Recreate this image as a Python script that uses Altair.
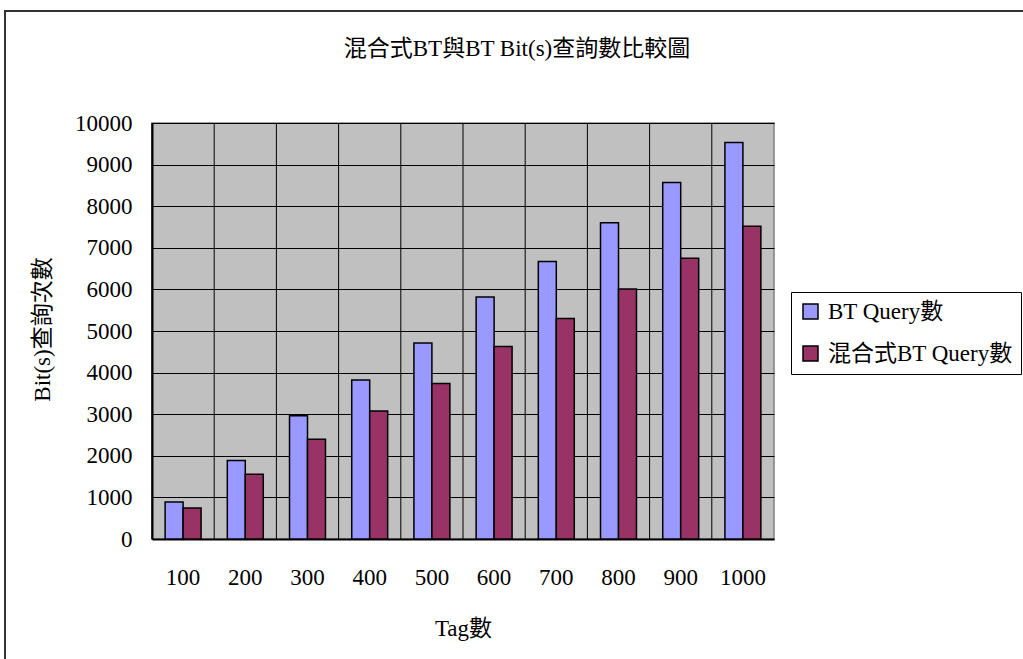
import altair as alt
import pandas as pd

# Tag counts on the category axis
tags = [100, 200, 300, 400, 500, 600, 700, 800, 900, 1000]
# Query counts per series
bt_query = [890, 1890, 2960, 3820, 4710, 5820, 6670, 7600, 8570, 9530]
hybrid_query = [745, 1555, 2400, 3075, 3740, 4630, 5300, 6010, 6750, 7520]

series = ["BT Query數", "混合式BT Query數"]
colors = ["#9999FF", "#993366"]
y_ticks = list(range(0, 10001, 1000))

FONT = "Liberation Serif, Noto Sans CJK TC"
FS = 23

rows = []
for t, a, b in zip(tags, bt_query, hybrid_query):
    rows.append({"tag": t, "series": series[0], "count": a})
    rows.append({"tag": t, "series": series[1], "count": b})
df = pd.DataFrame(rows)
tag_df = pd.DataFrame({"tag": tags})

W, H = 622, 416

x_scale = alt.Scale(paddingInner=0, paddingOuter=0)
x_axis = alt.Axis(
    labelAngle=0, ticks=False, grid=False, domainColor="black", domainWidth=2,
    labelFont=FONT, labelFontSize=FS, labelColor="black", labelPadding=27,
    title="Tag數", titleFont=FONT, titleFontSize=FS, titleFontWeight="normal",
    titleColor="black", titleY=89, titleBaseline="middle",
)

bars = alt.Chart(df).mark_bar(stroke="black", strokeWidth=1.5).encode(
    x=alt.X("tag:O", sort=tags, scale=x_scale, axis=x_axis),
    xOffset=alt.XOffset("series:N", sort=series,
                        scale=alt.Scale(paddingOuter=0.73, paddingInner=0)),
    y=alt.Y(
        "count:Q",
        scale=alt.Scale(domain=[0, 10000], nice=False),
        axis=alt.Axis(
            values=y_ticks, format="d", grid=True, gridColor="black", gridWidth=1,
            gridOpacity=1, domainColor="black", domainWidth=2, ticks=False,
            labelPadding=20, labelFont=FONT, labelFontSize=FS, labelColor="black",
            title="Bit(s)查詢次數", titleFont=FONT, titleFontSize=FS,
            titleFontWeight="normal", titleColor="black", titleX=-110, titleY=206,
            titleAngle=-90, titleAlign="center", titleBaseline="middle",
        ),
    ),
    color=alt.Color(
        "series:N",
        sort=series,
        scale=alt.Scale(domain=series, range=colors),
        legend=alt.Legend(
            title=None, orient="none", legendX=639, legendY=169,
            symbolType="square", symbolSize=225, symbolStrokeColor="black",
            symbolStrokeWidth=1.5, symbolOpacity=1,
            labelFont=FONT, labelFontSize=FS, labelColor="black", labelOffset=6,
            labelLimit=400, rowPadding=18, padding=8,
            fillColor="white", strokeColor="black",
        ),
    ),
)

# vertical grid lines at the category boundaries
vgrid = alt.Chart(tag_df).mark_rule(color="black", strokeWidth=1).encode(
    x=alt.X("tag:O", sort=tags, scale=x_scale, axis=x_axis, bandPosition=0),
    y=alt.value(0),
    y2=alt.value(H),
)

# outer frame around the figure
frame = alt.Chart(pd.DataFrame({"k": [0]})).mark_rect(
    fillOpacity=0, stroke="#333333", strokeWidth=2
).encode(
    x=alt.value(-147), x2=alt.value(900), y=alt.value(-112), y2=alt.value(600)
)

chart = alt.layer(vgrid, bars, frame).properties(
    width=W,
    height=H,
    title=alt.TitleParams(
        "混合式BT與BT Bit(s)查詢數比較圖", font=FONT, fontSize=FS,
        fontWeight="normal", color="black", anchor="middle", frame="group",
        offset=-51, dx=54,
    ),
    autosize=alt.AutoSizeParams(type="none"),
    padding={"left": 152, "top": 123, "right": 249, "bottom": 120},
    background="white",
).configure_view(fill="#C0C0C0", stroke="#808080", strokeWidth=1.5)

chart.save("out.html", embed_options={"renderer": "svg", "actions": False})
